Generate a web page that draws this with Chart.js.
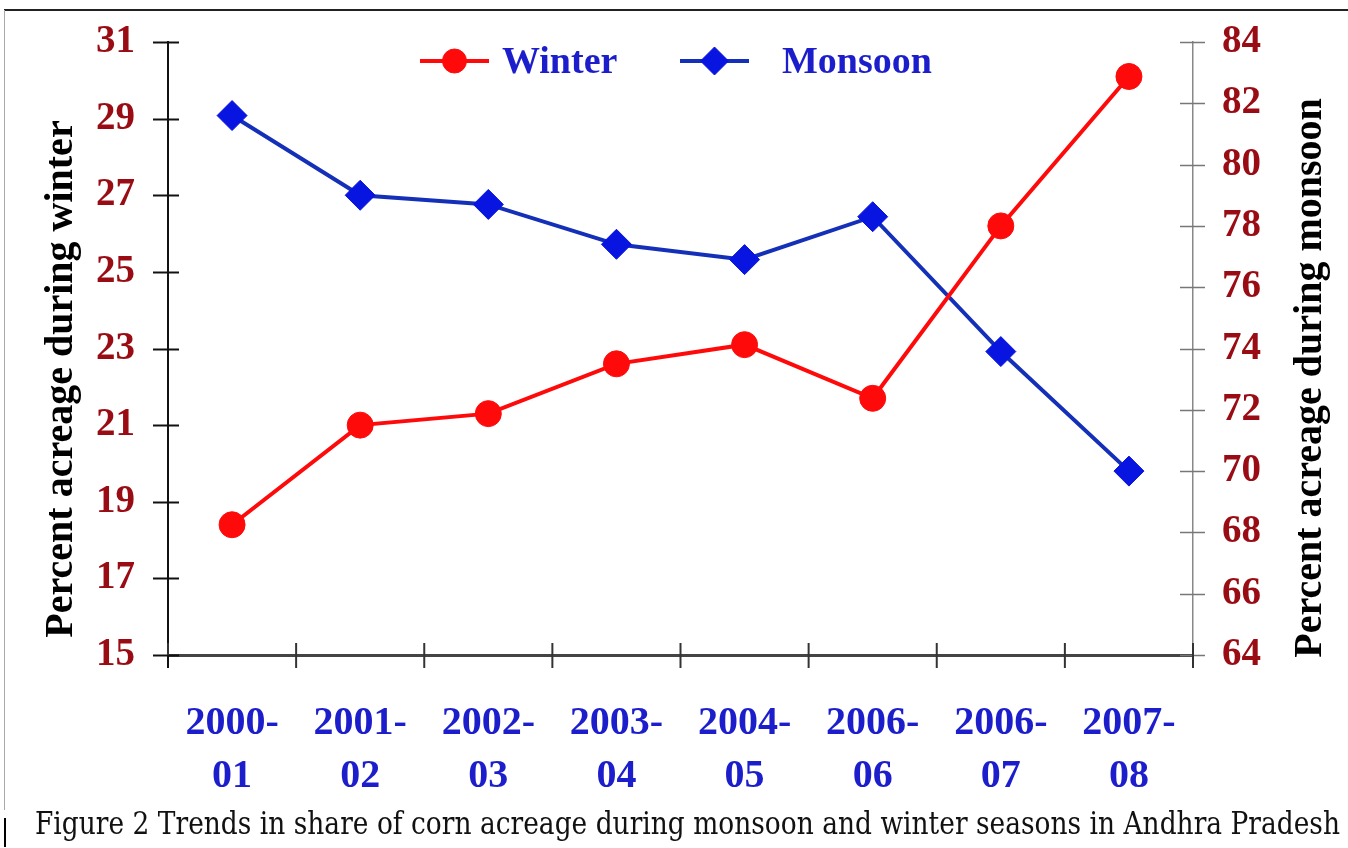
<!DOCTYPE html>
<html>
<head>
<meta charset="utf-8">
<script src="https://cdn.jsdelivr.net/npm/chart.js@4"></script>
<style>
  html, body { margin: 0; padding: 0; background: #fff; }
  #wrap { position: relative; width: 1348px; height: 848px; }
</style>
</head>
<body>
<div id="wrap"><canvas id="trendChart" width="1348" height="848"></canvas></div>
<script>
// Seasons (x axis, two-line labels)
const seasons = [
    ['2000-', '01'], ['2001-', '02'], ['2002-', '03'], ['2003-', '04'],
    ['2004-', '05'], ['2006-', '06'], ['2006-', '07'], ['2007-', '08']
];
// Share of corn acreage (%)
const winterShare = [18.4, 21.0, 21.3, 22.6, 23.1, 21.7, 26.2, 30.1];
const monsoonShare = [81.6, 79.0, 78.7, 77.4, 76.9, 78.3, 73.9, 70.0];

const leftTitle = 'Percent acreage during winter';
const rightTitle = 'Percent acreage during monsoon';
const caption = 'Figure 2 Trends in share of corn acreage during monsoon and winter seasons in Andhra Pradesh';

const SERIF = '"Liberation Serif", "Times New Roman", serif';
const DARK_RED = '#9a0c14';
const LABEL_BLUE = '#1c1ecb';

// tick marks that cross the axis lines
const crossTicks = {
    id: 'crossTicks',
    afterDraw(chart) {
        const ctx = chart.ctx;
        const yl = chart.scales.yWinter, yr = chart.scales.yMonsoon, x = chart.scales.x;
        ctx.save();
        ctx.strokeStyle = '#111';
        ctx.lineWidth = 2;
        yl.ticks.forEach((t, i) => {
            const y = Math.round(yl.getPixelForTick(i)) + 0.5;
            ctx.beginPath();
            ctx.moveTo(yl.right - 15, y);
            ctx.lineTo(yl.right + 11, y);
            ctx.stroke();
        });
        ctx.strokeStyle = '#777';
        ctx.lineWidth = 1.5;
        yr.ticks.forEach((t, i) => {
            const y = Math.round(yr.getPixelForTick(i)) + 0.5;
            ctx.beginPath();
            ctx.moveTo(yr.left - 13, y);
            ctx.lineTo(yr.left + 12, y);
            ctx.stroke();
        });
        ctx.strokeStyle = '#333';
        ctx.lineWidth = 2;
        const n = seasons.length;
        for (let i = 0; i <= n; i++) {
            let px;
            if (i === 0) px = x.left;
            else if (i === n) px = x.right;
            else px = (x.getPixelForTick(i - 1) + x.getPixelForTick(i)) / 2;
            ctx.beginPath();
            ctx.moveTo(px, x.top - 12);
            ctx.lineTo(px, x.top + 13);
            ctx.stroke();
        }
        // left axis runs down through the x axis
        ctx.strokeStyle = '#111';
        ctx.beginPath();
        ctx.moveTo(yl.right, x.top);
        ctx.lineTo(yl.right, x.top + 13);
        ctx.stroke();
        ctx.restore();
    }
};

// legend with a line segment through each marker
const lineLegend = {
    id: 'lineLegend',
    afterDraw(chart) {
        const ctx = chart.ctx;
        const items = [
            { ds: 0, x0: 420, x1: 489, tx: 502 },
            { ds: 1, x0: 680, x1: 749, tx: 782 }
        ];
        const y = 61;
        ctx.save();
        items.forEach(it => {
            const ds = chart.data.datasets[it.ds];
            ctx.strokeStyle = ds.borderColor;
            ctx.lineWidth = 4;
            ctx.beginPath();
            ctx.moveTo(it.x0, y);
            ctx.lineTo(it.x1, y);
            ctx.stroke();
            ctx.fillStyle = ds.pointBackgroundColor;
            ctx.strokeStyle = ds.pointBackgroundColor;
            ctx.lineWidth = 1;
            Chart.helpers.drawPoint(ctx, {
                pointStyle: ds.pointStyle, radius: ds.pointRadius - 1, rotation: 0, borderWidth: 1
            }, (it.x0 + it.x1) / 2, y);
            ctx.fillStyle = LABEL_BLUE;
            ctx.font = 'bold 38px ' + SERIF;
            ctx.textBaseline = 'middle';
            ctx.textAlign = 'left';
            ctx.fillText(ds.label, it.tx, y + 2);
        });
        ctx.restore();
    }
};

// axis titles, caption and page frame
const decorations = {
    id: 'decorations',
    afterDraw(chart) {
        const ctx = chart.ctx;
        ctx.save();
        ctx.fillStyle = '#000';
        ctx.font = 'bold 40px ' + SERIF;
        ctx.textAlign = 'center';
        ctx.textBaseline = 'middle';
        [[leftTitle, 62, 379], [rightTitle, 1311, 378]].forEach(([text, cx, cy]) => {
            ctx.save();
            ctx.translate(cx, cy);
            ctx.rotate(-Math.PI / 2);
            ctx.fillText(text, 0, 0);
            ctx.restore();
        });

        // caption, squeezed to the figure width
        ctx.font = '31px "DejaVu Serif", serif';
        ctx.textAlign = 'left';
        ctx.textBaseline = 'alphabetic';
        const w = ctx.measureText(caption).width;
        ctx.save();
        ctx.translate(35, 834);
        ctx.scale(1305 / w, 1);
        ctx.fillStyle = '#111';
        ctx.fillText(caption, 0, 0);
        ctx.restore();

        // frame
        ctx.strokeStyle = '#222';
        ctx.lineWidth = 2;
        ctx.beginPath();
        ctx.moveTo(4, 10);
        ctx.lineTo(1348, 10);
        ctx.stroke();
        ctx.strokeStyle = '#aaa';
        ctx.lineWidth = 1;
        ctx.beginPath();
        ctx.moveTo(4.5, 10);
        ctx.lineTo(4.5, 810);
        ctx.stroke();
        ctx.strokeStyle = '#000';
        ctx.lineWidth = 2;
        ctx.beginPath();
        ctx.moveTo(5, 818);
        ctx.lineTo(5, 847);
        ctx.stroke();
        ctx.restore();
    }
};

// fixed axis width, and no extra room reserved for the end labels
function fitWidth(width) {
    return function (scale) {
        scale.width = width;
        scale.paddingTop = 0;
        scale.paddingBottom = 0;
    };
}

const ctx = document.getElementById('trendChart').getContext('2d');
new Chart(ctx, {
    type: 'line',
    data: {
        labels: seasons,
        datasets: [{
            label: 'Winter',
            data: winterShare,
            yAxisID: 'yWinter',
            borderColor: '#ff0a0a',
            borderWidth: 4,
            pointStyle: 'circle',
            pointRadius: 13,
            pointBackgroundColor: '#ff0a0a',
            pointBorderColor: '#ff0a0a',
            pointBorderWidth: 1,
            tension: 0
        }, {
            label: 'Monsoon',
            data: monsoonShare,
            yAxisID: 'yMonsoon',
            borderColor: '#1530b8',
            borderWidth: 4,
            pointStyle: 'rectRot',
            pointRadius: 15,
            pointBackgroundColor: '#0814e0',
            pointBorderColor: '#0814e0',
            pointBorderWidth: 1,
            tension: 0
        }]
    },
    options: {
        responsive: false,
        animation: false,
        layout: { padding: { top: 42, left: 0, right: 0, bottom: 0 } },
        plugins: {
            legend: { display: false },
            title: { display: false },
            tooltip: { enabled: false }
        },
        scales: {
            x: {
                offset: true,
                afterFit(scale) { scale.height = 193; },
                grid: { drawOnChartArea: false, drawTicks: false, offset: true },
                border: { color: '#444', width: 3 },
                ticks: {
                    color: LABEL_BLUE,
                    font: { family: SERIF, size: 40, weight: 'bold', lineHeight: 1.32 },
                    padding: 42,
                    maxRotation: 0,
                    autoSkip: false
                }
            },
            yWinter: {
                position: 'left',
                min: 15,
                max: 31,
                afterFit: fitWidth(168),
                grid: { drawOnChartArea: false, drawTicks: false },
                border: { color: '#111', width: 2 },
                ticks: {
                    stepSize: 2,
                    color: DARK_RED,
                    font: { family: SERIF, size: 39, weight: 'bold' },
                    padding: 33
                }
            },
            yMonsoon: {
                position: 'right',
                min: 64,
                max: 84,
                afterFit: fitWidth(155),
                grid: { drawOnChartArea: false, drawTicks: false },
                border: { color: '#888', width: 1.5 },
                ticks: {
                    stepSize: 2,
                    color: DARK_RED,
                    font: { family: SERIF, size: 39, weight: 'bold' },
                    padding: 29
                }
            }
        }
    },
    plugins: [crossTicks, lineLegend, decorations]
});
</script>
</body>
</html>
